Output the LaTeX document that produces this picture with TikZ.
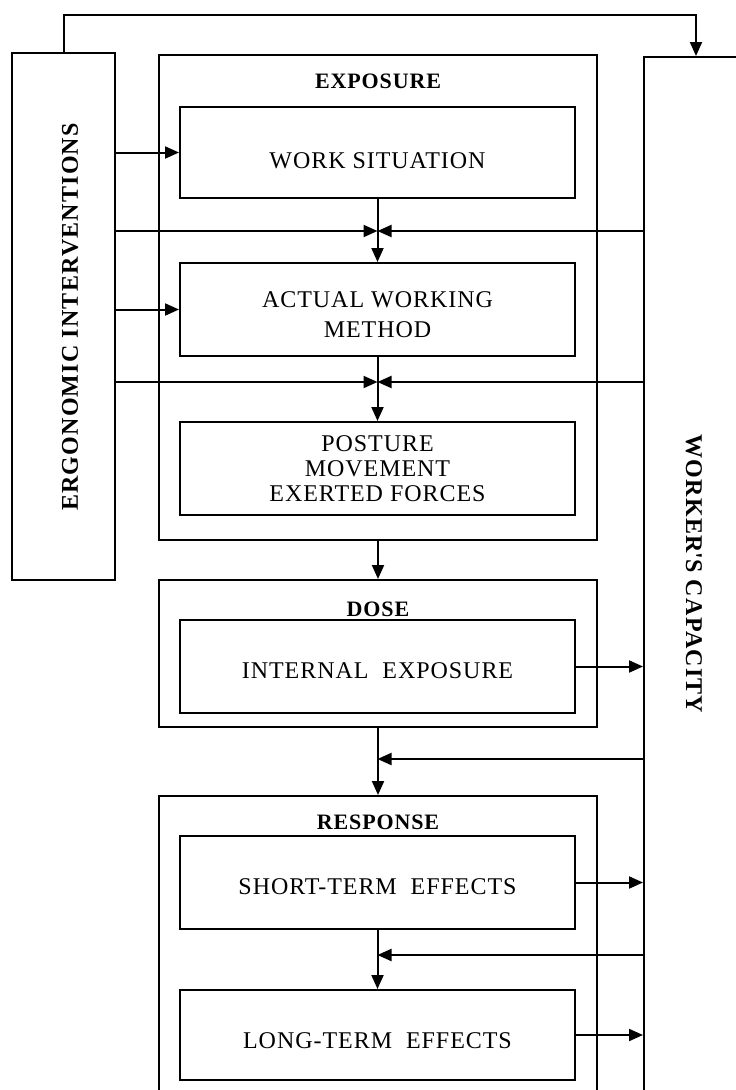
\documentclass[tikz,border=0pt]{standalone}
\usepackage{fontspec}
\setmainfont{Liberation Serif}[LetterSpace=4]
\usepackage{tikz}
\usetikzlibrary{arrows.meta}

\begin{document}
\begin{tikzpicture}[x=1pt,y=-1pt]

\tikzset{box/.style={draw, line width=2pt, minimum width=#1, inner sep=0pt, align=center},
  box/.default=395pt,
  arr/.style={line width=2pt, -{Triangle[length=14pt,width=12pt]}},
  txt/.style={font=\fontsize{24}{28}\selectfont, text depth=0pt, text height=#1},
  txt/.default=23pt,
  ttl/.style={font=\fontsize{22}{26}\selectfont\bfseries},
  side/.style={font=\fontsize{24}{28}\selectfont\bfseries\addfontfeature{LetterSpace=5}}
}

\useasboundingbox (0,0) rectangle (736,1090);

% side boxes
\node[box=103pt, minimum height=527pt] (ergo) at (63.5,316.5) {};
\node[box=104pt, minimum height=1060pt] (cap) at (696,587) {};
\node[side, rotate=90] (ergot) at (70,317) {ERGONOMIC INTERVENTIONS};
\node[side, rotate=-90] (capt) at (694,574) {WORKER\textquotesingle S CAPACITY};

% stages
\node[box=438pt, minimum height=485pt] (expo) at (378,297.5) {};
\node[box=438pt, minimum height=147pt] (dose) at (378,653.5) {};
\node[box=438pt, minimum height=320pt] (resp) at (378,956) {};
\node[ttl] (expot) at (378,81.5) {EXPOSURE};
\node[ttl] (doset) at (378,609) {DOSE};
\node[ttl] (respt) at (378,822) {RESPONSE};

\node[box, minimum height=91pt, txt=31pt] (ws) at (377.5,152.5) {WORK SITUATION};
\node[box, minimum height=93pt, font=\fontsize{24}{30}\selectfont] (awm) at (377.5,309.5) {\rule{0pt}{26pt}ACTUAL WORKING\\METHOD};
\node[box, minimum height=93pt, font=\fontsize{24}{25}\selectfont] (pos) at (377.5,468.5) {POSTURE\\MOVEMENT\\EXERTED FORCES};
\node[box, minimum height=93pt, txt] (ie) at (377.5,666.5) {INTERNAL\ \ EXPOSURE};
\node[box, minimum height=93pt, txt] (st) at (377.5,882.5) {SHORT-TERM\ \ EFFECTS};
\node[box, minimum height=90pt, txt=26pt] (lt) at (377.5,1035) {LONG-TERM\ \ EFFECTS};

\coordinate (j1) at (377.5,231);
\coordinate (j2) at (377.5,382);
\coordinate (j3) at (377.5,759);
\coordinate (j4) at (377.5,955);

% connectors
\draw[arr] (ergo.north) -- ++(0,-37) -| (cap.north);
\draw[arr] (ws.west -| ergo.east) -- (ws.west);
\draw[arr] (awm.west -| ergo.east) -- (awm.west);
\draw[arr] (ws.south) -- (awm.north);
\draw[arr] (awm.south) -- (pos.north);
\draw[arr] (expo.south) -- (dose.north);
\draw[arr] (dose.south) -- (resp.north);
\draw[arr] (st.south) -- (lt.north);
\foreach \j in {j1,j2} {
  \draw[arr] (\j -| ergo.east) -- (\j);
  \draw[arr] (\j -| cap.west) -- (\j);
}
\foreach \j in {j3,j4} \draw[arr] (\j -| cap.west) -- (\j);
\foreach \n in {ie,st,lt} \draw[arr] (\n.east) -- (\n.east -| cap.west);

\end{tikzpicture}
\end{document}
